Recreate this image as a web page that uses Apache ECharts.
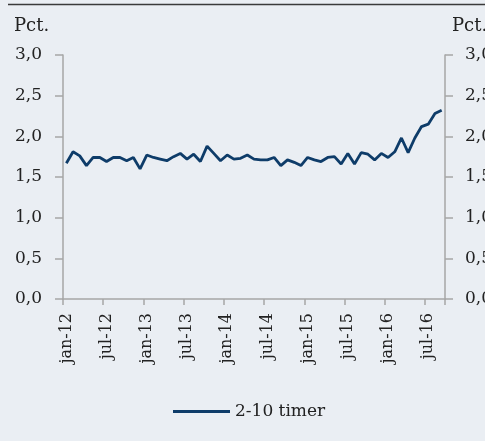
<!DOCTYPE html>
<html>
<head>
<meta charset="utf-8">
<script src="https://cdn.jsdelivr.net/npm/echarts@6/dist/echarts.min.js"></script>
<style>
html,body{margin:0;padding:0;background:#eaeef3;overflow:hidden;}
#c{width:485px;height:441px;}
</style>
</head>
<body>
<div id="c"></div>
<script>
const categories = [
 'jan-12','feb-12','mar-12','apr-12','maj-12','jun-12','jul-12','aug-12','sep-12','okt-12','nov-12','dec-12',
 'jan-13','feb-13','mar-13','apr-13','maj-13','jun-13','jul-13','aug-13','sep-13','okt-13','nov-13','dec-13',
 'jan-14','feb-14','mar-14','apr-14','maj-14','jun-14','jul-14','aug-14','sep-14','okt-14','nov-14','dec-14',
 'jan-15','feb-15','mar-15','apr-15','maj-15','jun-15','jul-15','aug-15','sep-15','okt-15','nov-15','dec-15',
 'jan-16','feb-16','mar-16','apr-16','maj-16','jun-16','jul-16','aug-16','sep-16'
];
const seriesName = '2-10 timer';
const spread = [
 1.67,1.81,1.76,1.64,1.74,1.74,1.69,1.74,1.74,1.70,
 1.74,1.60,1.77,1.74,1.72,1.70,1.75,1.79,1.72,1.78,
 1.69,1.88,1.79,1.70,1.77,1.72,1.73,1.77,1.72,1.71,
 1.71,1.74,1.64,1.71,1.68,1.64,1.74,1.71,1.69,1.74,
 1.75,1.66,1.79,1.66,1.80,1.78,1.71,1.79,1.74,1.81,
 1.98,1.80,1.98,2.12,2.15,2.28,2.32
];
const yUnit = 'Pct.';

const FONT = 'DejaVu Serif';
const axisGray = '#a6a6a6';
const fmt = v => v.toFixed(1).replace('.', ',');

const chart = echarts.init(document.getElementById('c'), null, {renderer:'canvas'});
const yAxisBase = {
  type:'value', min:0, max:3, interval:0.5,
  splitLine:{show:false},
  axisLine:{show:true, lineStyle:{color:axisGray, width:1.5}},
  axisTick:{show:true, length:8, lineStyle:{color:axisGray, width:1.5}},
  axisLabel:{formatter:fmt, fontFamily:FONT, fontSize:17, color:'#222', margin:21}
};
chart.setOption({
  backgroundColor:'#eaeef3',
  animation:false,
  grid:{left:63, right:40, top:55, bottom:142, containLabel:false, outerBoundsMode:'none'},
  xAxis:{
    type:'category', data:categories, boundaryGap:true,
    axisLine:{lineStyle:{color:axisGray, width:1.5}},
    axisTick:{show:true, interval:5, length:6, alignWithLabel:false, lineStyle:{color:axisGray, width:1.5}},
    axisLabel:{interval:5, rotate:90, fontFamily:FONT, fontSize:16, color:'#222', margin:14}
  },
  yAxis:[
    Object.assign({}, yAxisBase, {position:'left'}),
    Object.assign({}, yAxisBase, {position:'right', axisLabel:Object.assign({}, yAxisBase.axisLabel, {margin:20})})
  ],
  legend:{
    data:[seriesName], left:168, top:398, icon:'rect', itemWidth:57, itemHeight:3, itemGap:10,
    textStyle:{fontFamily:FONT, fontSize:17, color:'#222'}
  },
  series:[{
    name:seriesName, type:'line', data:spread, yAxisIndex:0,
    symbol:'none', lineStyle:{color:'#0e3c69', width:2.8}, itemStyle:{color:'#0e3c69'}
  }],
  graphic:[
    {type:'line', shape:{x1:8, y1:4.5, x2:485, y2:4.5}, style:{stroke:'#3a3a3a', lineWidth:1.5}},
    {type:'text', left:14, top:17, style:{text:yUnit, font:'18px "DejaVu Serif"', fill:'#222'}},
    {type:'text', left:452, top:17, style:{text:yUnit, font:'18px "DejaVu Serif"', fill:'#222'}}
  ]
});
</script>
</body>
</html>
